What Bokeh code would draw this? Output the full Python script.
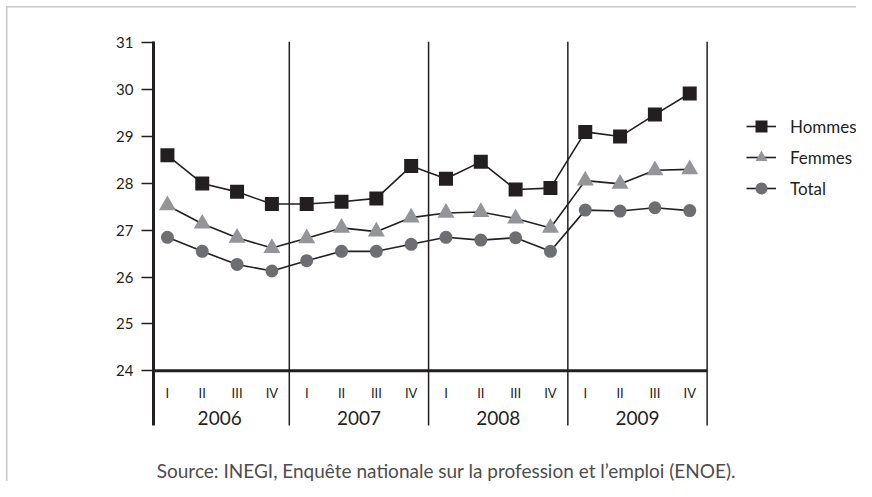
from bokeh.plotting import figure
from bokeh.models import (Range1d, FixedTicker, LinearAxis, Legend, LegendItem)
from bokeh.core.properties import value
from bokeh.embed import file_html
from bokeh.resources import INLINE

# ---- data ----
quarters = ["I", "II", "III", "IV"] * 4
years = ["2006", "2007", "2008", "2009"]
hommes = [28.6, 28.0, 27.82, 27.56, 27.56, 27.61, 27.68, 28.37,
          28.1, 28.46, 27.87, 27.9, 29.1, 29.0, 29.47, 29.92]
femmes = [27.53, 27.14, 26.84, 26.62, 26.83, 27.05, 26.97, 27.27,
          27.37, 27.39, 27.25, 27.05, 28.06, 27.99, 28.28, 28.3]
total = [26.85, 26.55, 26.27, 26.13, 26.35, 26.55, 26.55, 26.7,
         26.85, 26.79, 26.84, 26.55, 27.43, 27.41, 27.48, 27.42]
y_ticks = [24, 25, 26, 27, 28, 29, 30, 31]
source_text = "Source: INEGI, Enquête nationale sur la profession et l\u2019emploi (ENOE)."

x = list(range(len(hommes)))
year_centers = [i * 4 + 1.5 for i in range(len(years))]
separators = [i * 4 + 3.5 for i in range(len(years))]

FONT = "Lato"
INK = "#231f20"

p = figure(width=856, height=481, output_backend="svg", toolbar_location=None,
           x_range=Range1d(-0.4, 19.79), y_range=Range1d(21.636, 31.03),
           min_border_left=153, min_border_top=41, min_border_right=0,
           min_border_bottom=0, x_axis_type=None, y_axis_type=None)
p.outline_line_color = None
p.grid.visible = False
p.background_fill_color = None
p.border_fill_color = None
# light grey panel border (top and left edges), painted behind the transparent canvas
p.styles = {
    "background-color": "white",
    "background-image": "linear-gradient(#c8c8c8, #c8c8c8), linear-gradient(#c8c8c8, #c8c8c8)",
    "background-size": "1.5px 100%, 100% 1.5px",
    "background-position": "6px 6px, 6px 6px",
    "background-repeat": "no-repeat",
    "border": "none",
    "outline": "none",
    "box-shadow": "none",
}

yax = LinearAxis(ticker=FixedTicker(ticks=y_ticks), bounds=(22.83, 31.03))
yax.axis_line_width = 3
yax.axis_line_color = INK
yax.major_tick_out = 12
yax.major_tick_in = 0
yax.major_tick_line_width = 1.5
yax.major_tick_line_color = INK
yax.minor_tick_line_color = None
yax.major_label_standoff = 8
yax.major_label_text_font = FONT
yax.major_label_text_font_size = "15px"
yax.major_label_text_color = INK
p.add_layout(yax, "left")

# year separators
p.segment(x0=separators, y0=[22.83] * len(separators), x1=separators,
          y1=[31.03] * len(separators), line_color=INK, line_width=1.5)
# x axis baseline
p.segment(x0=[-0.4], y0=[y_ticks[0]], x1=[separators[-1]], y1=[y_ticks[0]],
          line_color=INK, line_width=3)

# quarter and year labels
p.text(x=x, y=[23.52] * len(x), text=quarters, text_font=value(FONT),
       text_font_size="13px", text_align="center", text_baseline="middle",
       text_color=INK)
p.text(x=year_centers, y=[23.0] * len(years), text=years, text_font=value(FONT),
       text_font_size="19px", text_align="center", text_baseline="middle",
       text_color=INK)

# series
lh = p.line(x, hommes, line_color=INK, line_width=1.6)
lf = p.line(x, femmes, line_color=INK, line_width=1.6)
lt = p.line(x, total, line_color=INK, line_width=1.6)
st = p.scatter(x, total, marker="circle", size=13, fill_color="#6d6e71", line_color=None)
sf = p.scatter(x, femmes, marker="triangle", size=17, fill_color="#939598", line_color=None)
sh = p.scatter(x, hommes, marker="square", size=14, fill_color=INK, line_color=None)

# source
p.text(x=[8.01], y=[21.871], text=[source_text], text_font=value(FONT),
       text_font_size="19px", text_align="center", text_baseline="middle",
       text_color="#4d4d4d")

legend = Legend(items=[LegendItem(label="Hommes", renderers=[lh, sh]),
                       LegendItem(label="Femmes", renderers=[lf, sf]),
                       LegendItem(label="Total", renderers=[lt, st])],
                location=(593, 278), glyph_width=30, glyph_height=30,
                label_height=20, spacing=1, padding=0, margin=0,
                label_standoff=14, label_text_font=FONT,
                label_text_font_size="17px", label_text_color=INK,
                border_line_alpha=0, background_fill_alpha=0)
p.add_layout(legend, "center")

open("out.html", "w").write(file_html(p, INLINE))
